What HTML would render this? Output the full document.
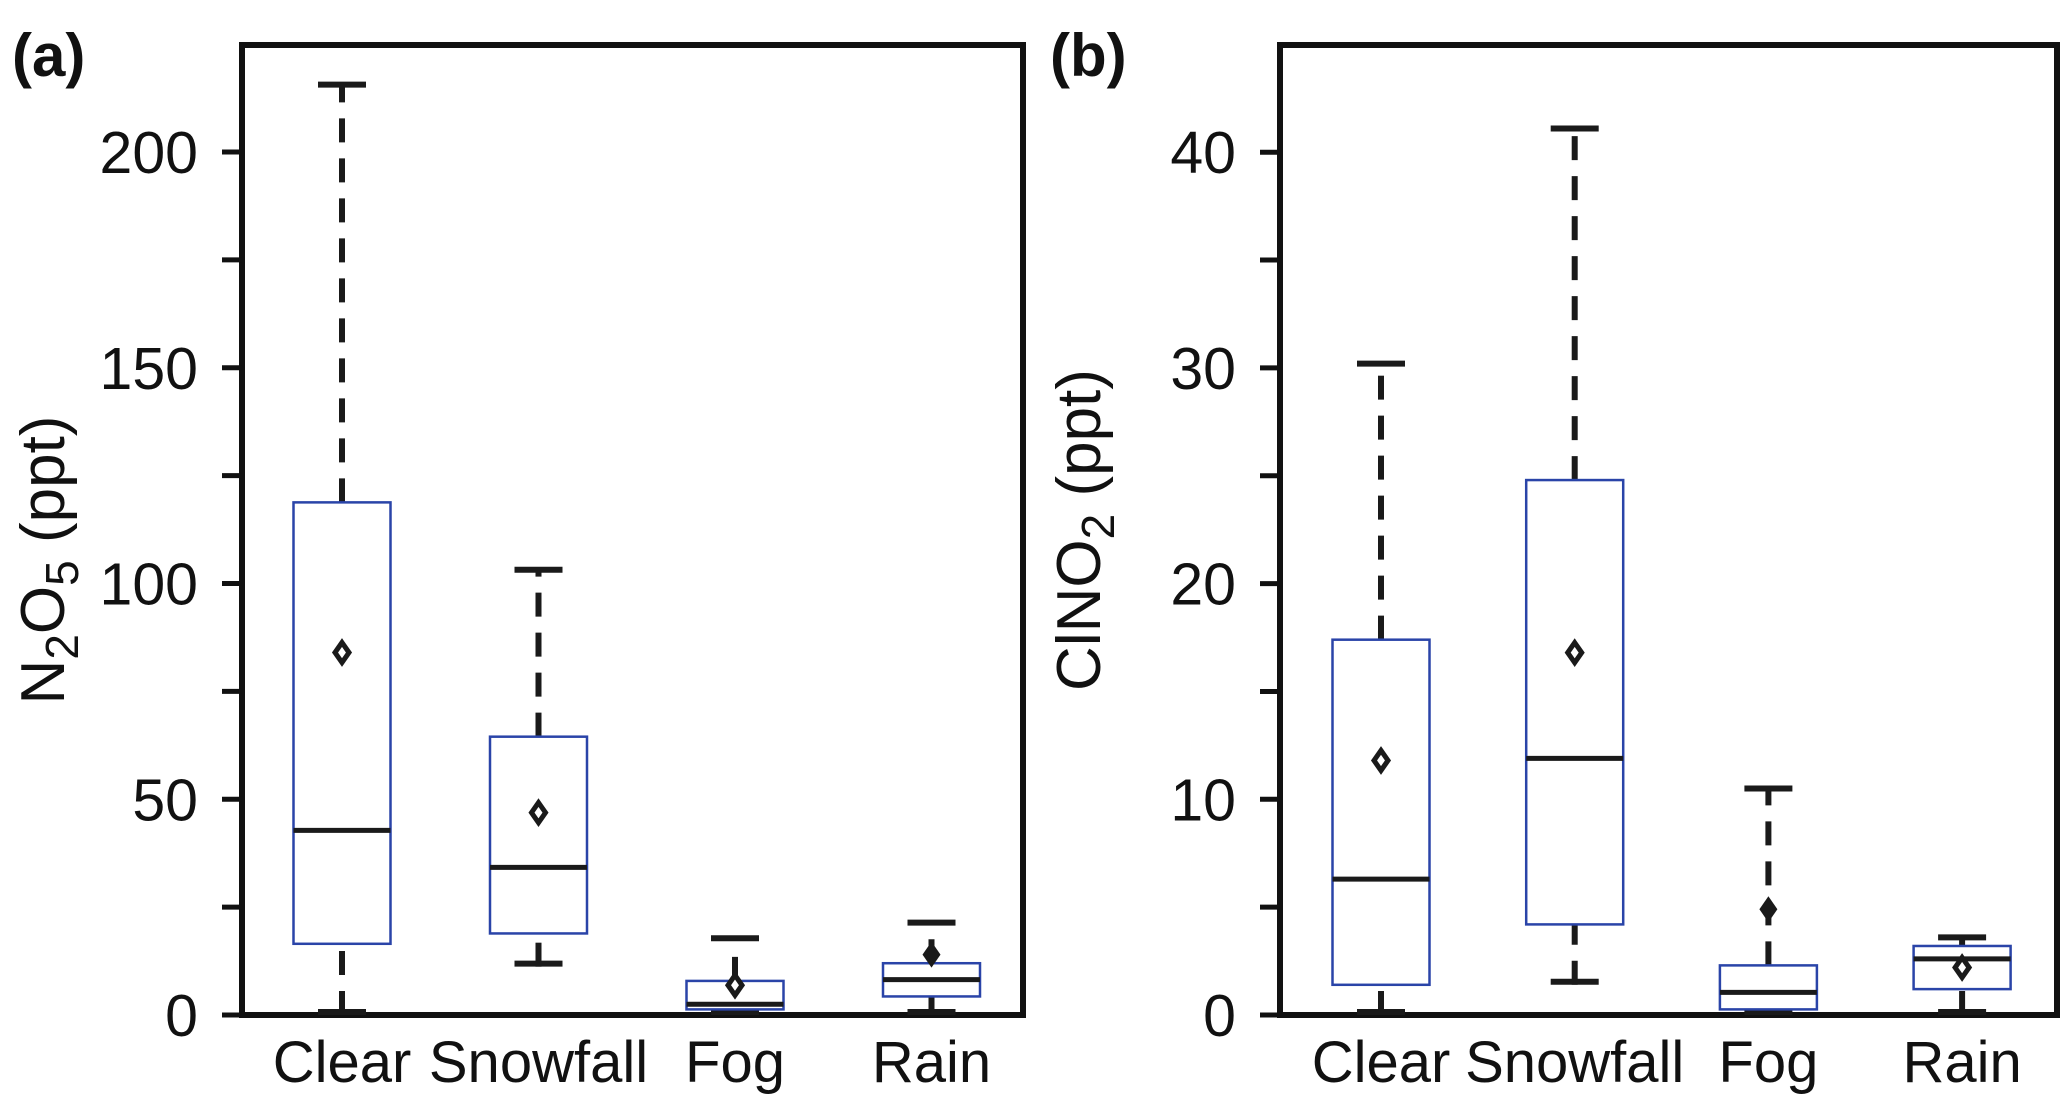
<!DOCTYPE html>
<html><head><meta charset="utf-8"><style>
body{margin:0;background:#fff;}
svg text{font-family:"Liberation Sans",Arial,sans-serif;fill:#111;}
</style></head><body>
<svg id="chart" width="2067" height="1112" viewBox="0 0 2067 1112" xmlns="http://www.w3.org/2000/svg"></svg>
<script>
const categories = ["Clear","Snowfall","Fog","Rain"];
// panel a: N2O5
const aMin = [0, 11.2, 0, 0];
const aQ1 = [16.5, 18.9, 1.3, 4.3];
const aMedian = [42.8, 34.2, 2.5, 8.2];
const aQ3 = [118.8, 64.5, 7.9, 12];
const aMax = [215.6, 103.2, 17.8, 21.4];
const aMean = [84, 46.9, 6.9, 14];
const aFilled = [false, false, false, true];
const aTicks = [0, 50, 100, 150, 200];
const aMinorTicks = [25, 75, 125, 175];
// panel b: ClNO2
const bMin = [0, 1.4, 0, 0];
const bQ1 = [1.4, 4.2, 0.26, 1.2];
const bMedian = [6.3, 11.9, 1.05, 2.6];
const bQ3 = [17.4, 24.8, 2.3, 3.2];
const bMax = [30.2, 41.1, 10.5, 3.6];
const bMean = [11.8, 16.8, 4.9, 2.2];
const bFilled = [false, false, true, false];
const bTicks = [0, 10, 20, 30, 40];
const bMinorTicks = [5, 15, 25, 35];

const svg = document.getElementById('chart');
const NS = 'http://www.w3.org/2000/svg';
function mk(tag, attrs, parent){
  const e = document.createElementNS(NS, tag);
  for (const k in attrs) e.setAttribute(k, attrs[k]);
  (parent||svg).appendChild(e);
  return e;
}
const TOP = 45, BOTTOM = 1015;

function panel(p){
  const g = mk('g', {});
  
  
  const y = v => BOTTOM - v * p.scale;
  const x = i => p.xc0 + i * p.dx;
  const fr = mk('rect', {x:p.left, y:TOP, width:p.right-p.left, height:BOTTOM-TOP, fill:'none', stroke:'#111','stroke-width':6}, g);
  
  
  p.ticks.forEach(t => {
    const l = mk('line', {x1:p.left-20, x2:p.left, y1:y(t), y2:y(t), stroke:'#111','stroke-width':5}, g);
    
    
    const tx = mk('text', {x:p.left-44, y:y(t)+21, 'font-size':59, 'text-anchor':'end'}, g);
    tx.textContent = t;
    
    
  });
  p.minor.forEach(t => {
    const l = mk('line', {x1:p.left-20, x2:p.left, y1:y(t), y2:y(t), stroke:'#111','stroke-width':5}, g);
    
    
  });
  categories.forEach((c, i) => {
    const cx = x(i), bw = 97, cw = 48;
    const bg = mk('g', {}, g);
    
    
    if (p.max[i] > p.q3[i]) mk('line', {x1:cx,x2:cx,y1:y(p.q3[i]),y2:y(p.max[i]),stroke:'#1a1a1a','stroke-width':6,'stroke-dasharray':'24 16'}, bg);
    if (p.q1[i] > p.min[i]) mk('line', {x1:cx,x2:cx,y1:y(p.min[i]),y2:y(p.q1[i]),stroke:'#1a1a1a','stroke-width':6,'stroke-dasharray':'24 16'}, bg);
    mk('line', {x1:cx-cw/2,x2:cx+cw/2,y1:y(p.max[i]),y2:y(p.max[i]),stroke:'#1a1a1a','stroke-width':6}, bg);
    mk('line', {x1:cx-cw/2,x2:cx+cw/2,y1:y(p.min[i])-3,y2:y(p.min[i])-3,stroke:'#1a1a1a','stroke-width':6}, bg);
    mk('rect', {x:cx-bw/2, y:y(p.q3[i]), width:bw, height:y(p.q1[i])-y(p.q3[i]), fill:'#fff', stroke:'#2a44a8','stroke-width':2.5}, bg);
    mk('line', {x1:cx-bw/2,x2:cx+bw/2,y1:y(p.med[i]),y2:y(p.med[i]),stroke:'#1a1a1a','stroke-width':5}, bg);
    const my = y(p.mean[i]);
    if (p.filled[i]) mk('polygon', {points:`${cx},${my-13} ${cx+9},${my} ${cx},${my+13} ${cx-9},${my}`, fill:'#1a1a1a'}, bg);
    else mk('polygon', {points:`${cx},${my-10} ${cx+7},${my} ${cx},${my+10} ${cx-7},${my}`, fill:'#fff', stroke:'#1a1a1a','stroke-width':5}, bg);
    const lab = mk('text', {x:cx, y:1082, 'font-size':58, 'text-anchor':'middle'}, g);
    lab.textContent = c;
    
    
  });
  const pl = mk('text', {x:p.labelX, y:76, 'font-size':60, 'font-weight':'bold'}, g);
  pl.textContent = '(' + p.id + ')';
  
  
  const yt = mk('text', {transform:`translate(${p.titleX},${p.titleY}) rotate(-90)`, 'font-size':62, 'text-anchor':'middle'}, g);
  yt.innerHTML = p.title;
  
  
}

panel({id:'a', left:242, right:1023, scale:4.315, xc0:342, dx:196.5,
  ticks:aTicks, minor:aMinorTicks, min:aMin, q1:aQ1, med:aMedian, q3:aQ3, max:aMax, mean:aMean, filled:aFilled,
  labelX:12, titleX:64, titleY:560, title:'N<tspan dy="14" font-size="46">2</tspan><tspan dy="-14">O</tspan><tspan dy="14" font-size="46">5</tspan><tspan dy="-14"> (ppt)</tspan>'});
panel({id:'b', left:1280, right:2057, scale:21.57, xc0:1381, dx:193.7,
  ticks:bTicks, minor:bMinorTicks, min:bMin, q1:bQ1, med:bMedian, q3:bQ3, max:bMax, mean:bMean, filled:bFilled,
  labelX:1050, titleX:1100, titleY:530, title:'ClNO<tspan dy="14" font-size="46">2</tspan><tspan dy="-14"> (ppt)</tspan>'});
</script>
</body></html>
